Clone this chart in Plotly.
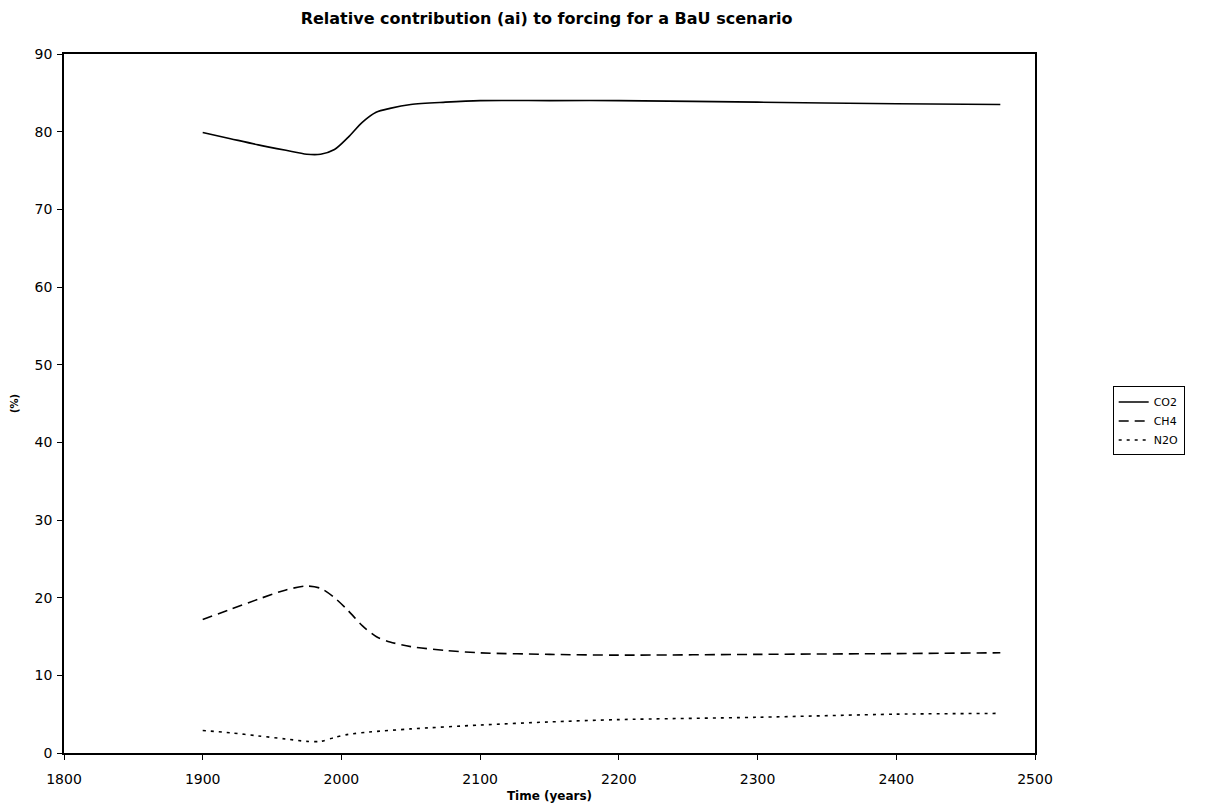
import plotly.graph_objects as go

years_co2 = [1900, 1920, 1940, 1960, 1975, 1985, 1995, 2005, 2015, 2025, 2035, 2050, 2075, 2100, 2150, 2200, 2300, 2400, 2475]
co2 = [79.9, 79.1, 78.3, 77.6, 77.1, 77.1, 77.7, 79.3, 81.2, 82.5, 83.0, 83.5, 83.8, 84.0, 84.0, 84.0, 83.8, 83.6, 83.5]

years_ch4 = [1900, 1920, 1940, 1960, 1975, 1985, 1995, 2005, 2015, 2025, 2035, 2050, 2075, 2100, 2150, 2200, 2300, 2400, 2475]
ch4 = [17.2, 18.5, 19.8, 21.0, 21.5, 21.2, 20.0, 18.3, 16.4, 15.0, 14.3, 13.7, 13.2, 12.9, 12.7, 12.6, 12.7, 12.8, 12.9]

years_n2o = [1900, 1920, 1940, 1960, 1975, 1985, 1995, 2005, 2020, 2050, 2100, 2150, 2200, 2300, 2400, 2475]
n2o = [2.9, 2.6, 2.2, 1.8, 1.5, 1.5, 2.0, 2.4, 2.7, 3.1, 3.6, 4.0, 4.3, 4.6, 5.0, 5.1]

x_ticks = [1800, 1900, 2000, 2100, 2200, 2300, 2400, 2500]
y_ticks = [0, 10, 20, 30, 40, 50, 60, 70, 80, 90]

FONT = "DejaVu Sans, Verdana, sans-serif"

fig = go.Figure()
fig.add_trace(go.Scatter(x=years_co2, y=co2, mode="lines", name="CO2",
                         line=dict(color="black", width=1.6, shape="spline", smoothing=0.8)))
fig.add_trace(go.Scatter(x=years_ch4, y=ch4, mode="lines", name="CH4",
                         line=dict(color="black", width=1.6, dash="10px,6px", shape="spline", smoothing=0.8)))
fig.add_trace(go.Scatter(x=years_n2o, y=n2o, mode="lines", name="N2O",
                         line=dict(color="black", width=1.6, dash="3px,5px", shape="spline", smoothing=0.8)))

fig.update_layout(
    width=1220, height=808,
    paper_bgcolor="white", plot_bgcolor="white",
    margin=dict(l=64, r=185, t=54, b=55, autoexpand=False),
    font=dict(family=FONT, size=13, color="black"),
    title=dict(text="<b>Relative contribution (ai) to forcing for a BaU scenario</b>",
               x=0.497, xref="paper", xanchor="center", y=0.977, yanchor="middle",
               font=dict(family=FONT, size=16, color="black")),
    showlegend=True,
    legend=dict(x=1.08, xanchor="left", y=0.475, yanchor="middle",
                bordercolor="black", borderwidth=1, bgcolor="white",
                font=dict(family=FONT, size=11, color="black"),
                tracegroupgap=0, itemwidth=30),
    xaxis=dict(range=[1800, 2500], tickmode="array", tickvals=x_ticks,
               ticks="outside", ticklen=5, tickcolor="black",
               ticklabelstandoff=7, automargin=False,
               showline=True, linecolor="black", linewidth=1.5, mirror=True,
               showgrid=False, zeroline=False,
               title=dict(text="<b>Time (years)</b>", standoff=6,
                          font=dict(family=FONT, size=12, color="black")),
               tickfont=dict(family=FONT, size=14, color="black")),
    yaxis=dict(range=[0, 90], tickmode="array", tickvals=y_ticks,
               ticks="outside", ticklen=5, tickcolor="black",
               ticklabelstandoff=2, automargin=False,
               showline=True, linecolor="black", linewidth=1.5, mirror=True,
               showgrid=False, zeroline=False,
               title=dict(text="<b>(%)</b>", standoff=14,
                          font=dict(family=FONT, size=10, color="black")),
               tickfont=dict(family=FONT, size=14, color="black")),
)

fig.write_html("out.html")
